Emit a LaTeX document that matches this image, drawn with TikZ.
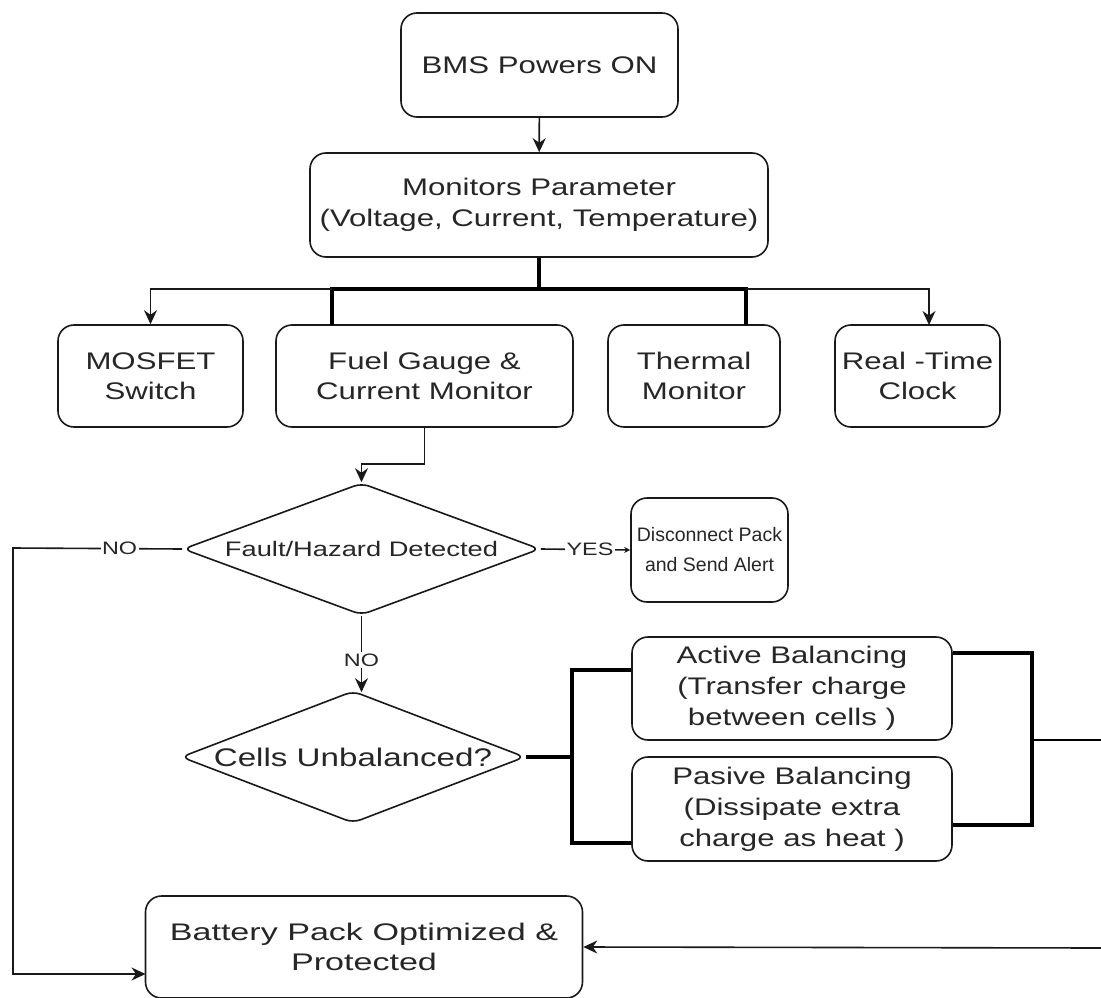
\documentclass[tikz,border=0pt]{standalone}
\usepackage{fontspec}
\setmainfont{Liberation Sans}[FakeStretch=1.3]
\newfontfamily\plainsans{Liberation Sans}
\newfontfamily\widesans{Liberation Sans}[FakeStretch=1.42]
\usetikzlibrary{shapes.geometric,arrows.meta,calc}
\begin{document}
\begin{tikzpicture}[x=1pt,y=-1pt,
  box/.style={draw=black!90, rounded corners=16pt, line width=1.6pt, align=center, inner sep=0pt,
    text=black!85, font=\fontsize{24}{30}\selectfont},
  dia/.style={draw=black!90, diamond, rounded corners=8pt, line width=1.6pt, inner sep=0pt, align=center,
    text=black!85, font=\fontsize{24}{30}\selectfont},
  conn/.style={line width=1.6pt, draw=black!90},
  bold/.style={line width=3.6pt, draw=black},
  arr/.style={conn, -{Stealth[length=14pt,width=13pt]}},
  lbl/.style={fill=white, inner sep=1.5pt, text=black!85, font=\fontsize{18}{20}\selectfont},
]
\useasboundingbox (0,0) rectangle (1101,998);

% nodes
\node[box, minimum width=277pt, minimum height=104pt] (bms) at (539.5,65) {BMS Powers ON};
\node[box, minimum width=458pt, minimum height=104pt, font=\fontsize{24}{31}\selectfont] (mon) at (539,205)
  {Monitors Parameter\\(Voltage, Current, Temperature)};

\node[box, minimum width=185pt, minimum height=102pt] (mos) at (150.5,376) {MOSFET\\Switch};
\node[box, minimum width=297pt, minimum height=102pt] (fuel) at (424.5,376) {Fuel Gauge \&\\Current Monitor};
\node[box, minimum width=172pt, minimum height=102pt] (therm) at (694,376) {Thermal\\Monitor};
\node[box, minimum width=165pt, minimum height=102pt] (rtc) at (917.5,376) {Real -Time\\Clock};

\node[dia, shape aspect=2.7, minimum width=357pt, minimum height=132pt, font=\fontsize{21}{24}\selectfont] (fault) at (361.5,549)
  {Fault/Hazard Detected};
\node[box, minimum width=157pt, minimum height=104pt, font=\plainsans\fontsize{19.5}{30}\selectfont] (disc) at (709.5,550)
  {Disconnect Pack\\and Send Alert};

\node[dia, shape aspect=2.6, minimum width=344pt, minimum height=132pt, font=\fontsize{25.5}{30}\selectfont] (cells) at (353,757) {Cells Unbalanced?};

\node[box, minimum width=320pt, minimum height=103pt, font=\fontsize{24}{31}\selectfont] (active) at (792,688.5)
  {Active Balancing\\(Transfer charge\\between cells )};
\node[box, minimum width=320pt, minimum height=104pt, font=\fontsize{24}{31}\selectfont] (passive) at (792,809)
  {Pasive Balancing\\(Dissipate extra\\charge as heat )};

\node[box, minimum width=437pt, minimum height=102pt, font=\widesans\fontsize{24}{30}\selectfont] (batt) at (364,947)
  {Battery Pack Optimized \&\\Protected};

% helper coordinates
\coordinate (j1) at (539,289);
\coordinate (fueltop) at (332,325);
\coordinate (thermtop) at (746,325);
\coordinate (rtcin) at (929,325);
\coordinate (nl) at (13,548);
\coordinate (battin) at (145.5,974);
\coordinate (cj) at (572,757);
\coordinate (rj) at (1032,740);
\coordinate (redge) at (1101,740);
\coordinate (redge2) at (1101,948);

% connectors
\draw[arr] (bms) -- (mon);
\draw[bold] (mon.south -| j1) -- (j1);
\draw[bold] (fueltop) |- (j1) -| (thermtop);
\draw[arr] (fueltop |- j1) -| (mos.north);
\draw[arr] (thermtop |- j1) -| (rtcin);

\draw[arr] (fuel.south) -- ++(0,36) -| (fault.north);

\draw[conn, -{Stealth[length=6pt,width=6pt]}] (fault.east) -- (disc.west)
  node[lbl, pos=0.55] {YES};
\draw[arr] (fault.west) -- (nl) node[lbl, pos=0.37] {NO} |- (battin);
\draw[arr] (fault.south) -- ($(fault.south |- cells.north)+(0,2)$) node[lbl, pos=0.58] {NO};

\draw[bold] (cells.east) -- (cj);
\draw[bold] ($(active.west)+(0,-18.5)$) -| (cj) |- ($(passive.west)+(0,34)$);
\draw[bold] ($(active.east)+(0,-35.5)$) -| (rj) |- ($(passive.east)+(0,16)$);
\draw[line width=2pt] (rj) -- (redge);
\draw[arr] (redge2) -- (batt.east);
\end{tikzpicture}
\end{document}
